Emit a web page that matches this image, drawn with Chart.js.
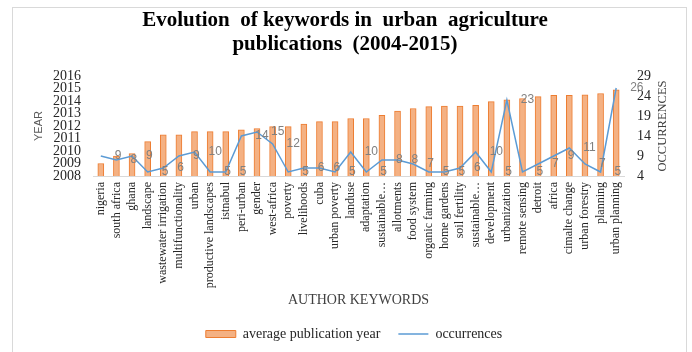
<!DOCTYPE html>
<html lang="en">
<head>
    <meta charset="UTF-8">
    <title>Evolution of keywords in urban agriculture publications</title>
    <style>
        body {
            margin: 0;
            background-color: #ffffff;
        }
        #frame {
            position: absolute;
            left: 12px;
            top: 7px;
            width: 673px;
            height: 360px;
            border: 1px solid #d9d9d9;
        }
        #chart {
            position: absolute;
            left: 0;
            top: 0;
        }
    </style>
</head>
<body>
    <div id="frame"></div>
    <canvas id="chart" width="692" height="352"></canvas>

    <script src="https://cdn.jsdelivr.net/npm/chart.js"></script>
    <script>
        // author keywords, oldest average year first
        const keywords = [
            'nigeria', 'south africa', 'ghana', 'landscape', 'wastewater irrigation',
            'multifunctionality', 'urban', 'productive landscapes', 'istnabul', 'peri-urban',
            'gender', 'west-africa', 'poverty', 'livelihoods', 'cuba', 'urban poverty',
            'landuse', 'adaptation', 'sustainable…', 'allotments', 'food system',
            'organic farming', 'home gardens', 'soil fertility', 'sustainable…',
            'development', 'urbanization', 'remote sensing', 'detroit', 'africa',
            'cimalte change', 'urban forestry', 'planning', 'urban planning'
        ];

        const avgYear = [
            2009.0, 2009.6, 2009.8, 2010.75, 2011.3, 2011.3, 2011.55, 2011.55, 2011.55, 2011.7,
            2011.8, 2011.95, 2011.95, 2012.15, 2012.35, 2012.35, 2012.6, 2012.6, 2012.85, 2013.2,
            2013.4, 2013.55, 2013.6, 2013.6, 2013.65, 2013.95, 2014.1, 2014.2, 2014.35, 2014.45,
            2014.45, 2014.5, 2014.6, 2014.9
        ];

        const occurrences = [
            9, 8, 9, 5, 6, 9, 10, 5, 5, 14,
            15, 12, 5, 6, 6, 5, 10, 5, 8, 8,
            7, 5, 5, 6, 10, 5, 23, 5, 7, 9,
            11, 7, 5, 26
        ];

        // axis ranges: [min, max, step]
        const yearAxis = [2008, 2016, 1];
        const occAxis = [4, 29, 5];

        const serif = 'Liberation Serif';

        // grey value labels next to each line point
        const pointLabels = {
            id: 'pointLabels',
            afterDatasetsDraw(chart) {
                const ctx = chart.ctx;
                const meta = chart.getDatasetMeta(0);
                ctx.save();
                ctx.font = '12px "Liberation Sans"';
                ctx.fillStyle = '#808080';
                ctx.textAlign = 'left';
                ctx.textBaseline = 'middle';
                meta.data.forEach((pt, i) => {
                    ctx.fillText(String(occurrences[i]), pt.x + 14, pt.y);
                });
                ctx.restore();
            }
        };

        // secondary axis title, rotated bottom-to-top
        const rightTitle = {
            id: 'rightTitle',
            afterDraw(chart) {
                const ctx = chart.ctx;
                const s = chart.scales.y2;
                ctx.save();
                ctx.translate(s.left + 39, (s.top + s.bottom) / 2);
                ctx.rotate(-Math.PI / 2);
                ctx.font = '12.5px "' + serif + '"';
                ctx.fillStyle = '#404040';
                ctx.textAlign = 'center';
                ctx.textBaseline = 'middle';
                ctx.fillText('OCCURRENCES', 0, 0);
                ctx.restore();
            }
        };

        // nudge the legend a little to the right of centre
        const legendShift = {
            id: 'legendShift',
            afterLayout(chart) {
                chart.legend.left += 9;
                chart.legend.right += 9;
            }
        };

        const ctx = document.getElementById('chart').getContext('2d');

        const chart = new Chart(ctx, {
            data: {
                labels: keywords,
                datasets: [
                    {
                        type: 'line',
                        label: 'occurrences',
                        data: occurrences,
                        yAxisID: 'y2',
                        borderColor: '#5B9BD5',
                        backgroundColor: '#5B9BD5',
                        borderWidth: 1.5,
                        pointRadius: 0,
                        pointStyle: 'line',
                        tension: 0
                    },
                    {
                        type: 'bar',
                        label: 'average publication year',
                        data: avgYear,
                        yAxisID: 'y',
                        base: yearAxis[0],
                        backgroundColor: '#F4B183',
                        borderColor: '#ED7D31',
                        borderWidth: 1,
                        barThickness: 6,
                        pointStyle: 'rect'
                    }
                ]
            },
            options: {
                responsive: false,
                animation: false,
                layout: {
                    padding: { left: 26, right: 28, top: 0, bottom: 1 }
                },
                plugins: {
                    title: {
                        display: true,
                        text: ['Evolution  of keywords in  urban  agriculture', 'publications  (2004-2015)'],
                        color: '#000000',
                        font: { family: serif, size: 21, weight: 'bold', lineHeight: '24px' },
                        padding: { top: 9, bottom: 19 }
                    },
                    legend: {
                        position: 'bottom',
                        labels: {
                            usePointStyle: true,
                            pointStyleWidth: 30,
                            boxHeight: 7,
                            padding: 18,
                            color: '#262626',
                            font: { family: serif, size: 14 },
                            sort: (a, b) => b.datasetIndex - a.datasetIndex
                        }
                    },
                    tooltip: { enabled: false }
                },
                scales: {
                    x: {
                        offset: true,
                        grid: { display: false, drawTicks: false },
                        border: { display: true, color: '#d9d9d9' },
                        ticks: {
                            autoSkip: false,
                            minRotation: 90,
                            maxRotation: 90,
                            padding: 6,
                            color: '#262626',
                            font: { family: serif, size: 12 }
                        },
                        title: {
                            display: true,
                            text: 'AUTHOR KEYWORDS',
                            color: '#404040',
                            font: { family: serif, size: 14 },
                            padding: 0
                        },
                        afterFit: s => { s.height = 133; }
                    },
                    y: {
                        position: 'left',
                        min: yearAxis[0],
                        max: yearAxis[1],
                        grid: { display: false, drawTicks: false },
                        border: { display: false },
                        ticks: {
                            stepSize: yearAxis[2],
                            autoSkip: false,
                            padding: 12,
                            color: '#262626',
                            font: { family: serif, size: 14 },
                            callback: v => String(v)
                        },
                        title: {
                            display: true,
                            text: 'YEAR',
                            color: '#595959',
                            font: { family: 'Liberation Sans', size: 11 },
                            padding: { top: 6, bottom: 0 }
                        },
                        afterFit: s => { s.width = 67; }
                    },
                    y2: {
                        position: 'right',
                        min: occAxis[0],
                        max: occAxis[1],
                        grid: { display: false, drawTicks: false },
                        border: { display: false },
                        ticks: {
                            stepSize: occAxis[2],
                            autoSkip: false,
                            padding: 13,
                            color: '#262626',
                            font: { family: serif, size: 14 }
                        },
                        afterFit: s => { s.width = 40; }
                    }
                }
            },
            plugins: [pointLabels, rightTitle, legendShift]
        });
    </script>
</body>
</html>
